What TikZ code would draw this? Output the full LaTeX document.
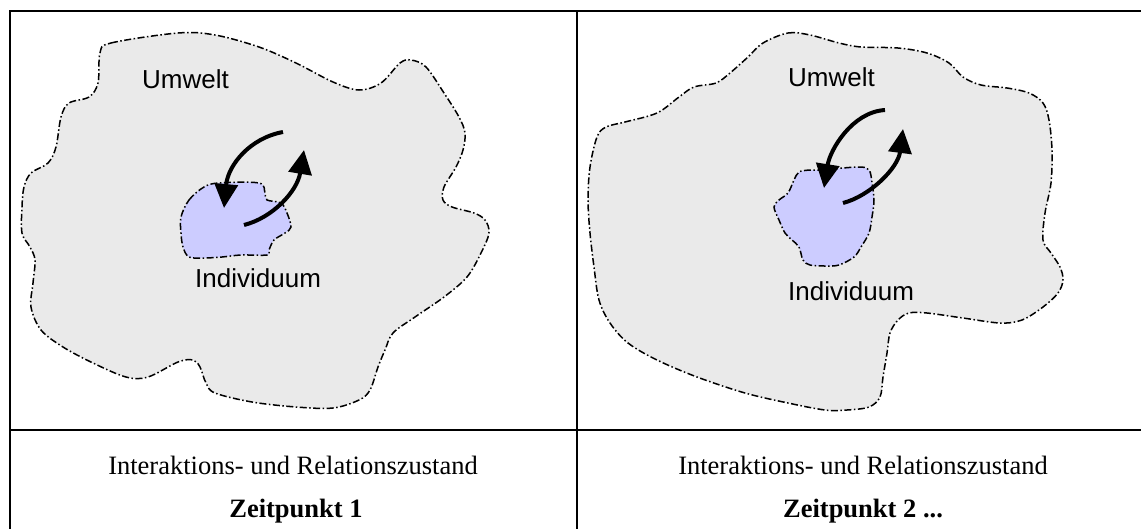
\documentclass[tikz,border=0pt]{standalone}
\usepackage{fontspec}
\setmainfont{Liberation Serif}
\newfontfamily\arialfont{Liberation Sans}
\usetikzlibrary{arrows.meta}
\definecolor{envgray}{HTML}{EAEAEA}
\definecolor{indblue}{HTML}{CCCCFF}
\tikzset{
  tableline/.style={line width=2.2pt, line cap=rect},
  envblob/.style={fill=envgray, draw=black, line width=1.5pt, dash pattern={on 7pt off 2.5pt on 1.5pt off 2.5pt}},
  indblob/.style={fill=indblue, draw=black, line width=1.5pt, dash pattern={on 7pt off 2.5pt on 1.5pt off 2.5pt}},
  flow/.style={line width=4pt, -{Triangle[length=24pt,width=23pt]}},
  lbl/.style={font=\arialfont\fontsize{26}{31}\selectfont, anchor=base west, inner sep=0pt},
  captext/.style={font=\fontsize{26.5}{31}\selectfont, anchor=base, inner sep=0pt},
  captextb/.style={font=\fontsize{26.5}{31}\selectfont\bfseries, anchor=base, inner sep=0pt}
}
\begin{document}
\begin{tikzpicture}[x=1pt,y=-1pt]
\useasboundingbox (0,0) rectangle (1141,528);
\fill[white] (0,0) rectangle (1141,528);

% left environment
\draw[envblob] plot[smooth cycle, tension=0.55] coordinates {
 (100,53) (111,43) (178,33) (215,35) (259,47) (296,63) (333,82) (359,90) (381,83)
 (400,63) (411,60) (426,67) (444,93) (459,117) (465,133) (463,150) (456,167)
 (444,187) (443,200) (452,207) (474,213) (485,220) (489,233) (481,253) (467,277)
 (444,297) (415,317) (393,333) (385,350) (378,367) (370,390) (359,400) (333,408)
 (296,407) (252,402) (215,393) (206,383) (200,367) (193,360) (178,362) (148,377)
 (126,377) (93,363) (63,347) (41,330) (31,307) (33,283) (35,260) (30,247) (22,233)
 (22,207) (24,187) (31,173) (48,163) (56,147) (61,117) (69,103) (89,97) (98,83)};
\draw[indblob] plot[smooth cycle, tension=0.55] coordinates {
 (181,217) (189,200) (204,187) (219,183) (259,183) (265,193) (267,200) (281,203)
 (287,213) (291,227) (285,233) (274,240) (269,250) (267,255) (241,255) (222,257)
 (204,258) (189,257) (183,247) (181,233)};

% right environment
\draw[envblob] plot[smooth cycle, tension=0.55] coordinates {
 (763,43) (788,33) (810,35) (839,43) (861,47) (898,48) (927,53) (949,63) (963,77)
 (981,85) (1007,88) (1029,93) (1043,103) (1049,120) (1052,150) (1051,183)
 (1045,213) (1043,240) (1051,253) (1060,267) (1063,280) (1058,293) (1043,307)
 (1022,320) (1000,323) (963,318) (927,313) (909,313) (898,320) (890,333) (887,353)
 (883,377) (880,397) (869,407) (847,410) (825,410) (788,403) (745,393) (697,377)
 (657,360) (628,343) (610,323) (599,300) (594,267) (590,233) (588,200) (590,167)
 (597,137) (606,127) (625,122) (657,113) (679,97) (694,87) (716,83) (730,73) (748,57)};
\draw[indblob] plot[smooth cycle, tension=0.55] coordinates {
 (774,207) (779,200) (788,193) (794,180) (799,172) (810,170) (821,170) (858,167)
 (869,170) (872,183) (874,200) (872,217) (869,233) (861,247) (854,257) (839,265)
 (825,266) (810,265) (803,260) (799,247) (792,240) (785,233) (779,220)};

% labels
\node[lbl] (uL) at (142,88) {Umwelt};
\node[lbl] (iL) at (195,287) {Individuum};
\node[lbl] (uR) at (788,86) {Umwelt};
\node[lbl] (iR) at (788,300) {Individuum};

% interaction arrows
\coordinate (L1s) at (283,132); \coordinate (L1e) at (224,208);
\coordinate (L2s) at (244,225); \coordinate (L2e) at (304,150);
\coordinate (R1s) at (885,110); \coordinate (R1e) at (824,188);
\coordinate (R2s) at (843,203); \coordinate (R2e) at (903,129);
\draw[flow] (L1s) .. controls (250,138) and (228,165) .. (L1e);
\draw[flow] (L2s) .. controls (272,218) and (297,192) .. (L2e);
\draw[flow] (R1s) .. controls (852,112) and (830,150) .. (R1e);
\draw[flow] (R2s) .. controls (870,196) and (898,168) .. (R2e);

% table
\draw[tableline] (10,528) -- (10,11) -- (1141,11);
\draw[tableline] (577,11) -- (577,528);
\draw[tableline] (10,430) -- (1141,430);

% captions
\node[captext] (c1) at (293,474) {Interaktions- und Relationszustand};
\node[captextb] (z1) at (296,517) {Zeitpunkt 1};
\node[captext] (c2) at (863,474) {Interaktions- und Relationszustand};
\node[captextb] (z2) at (863,517) {Zeitpunkt 2 ...};
\end{tikzpicture}
\end{document}
